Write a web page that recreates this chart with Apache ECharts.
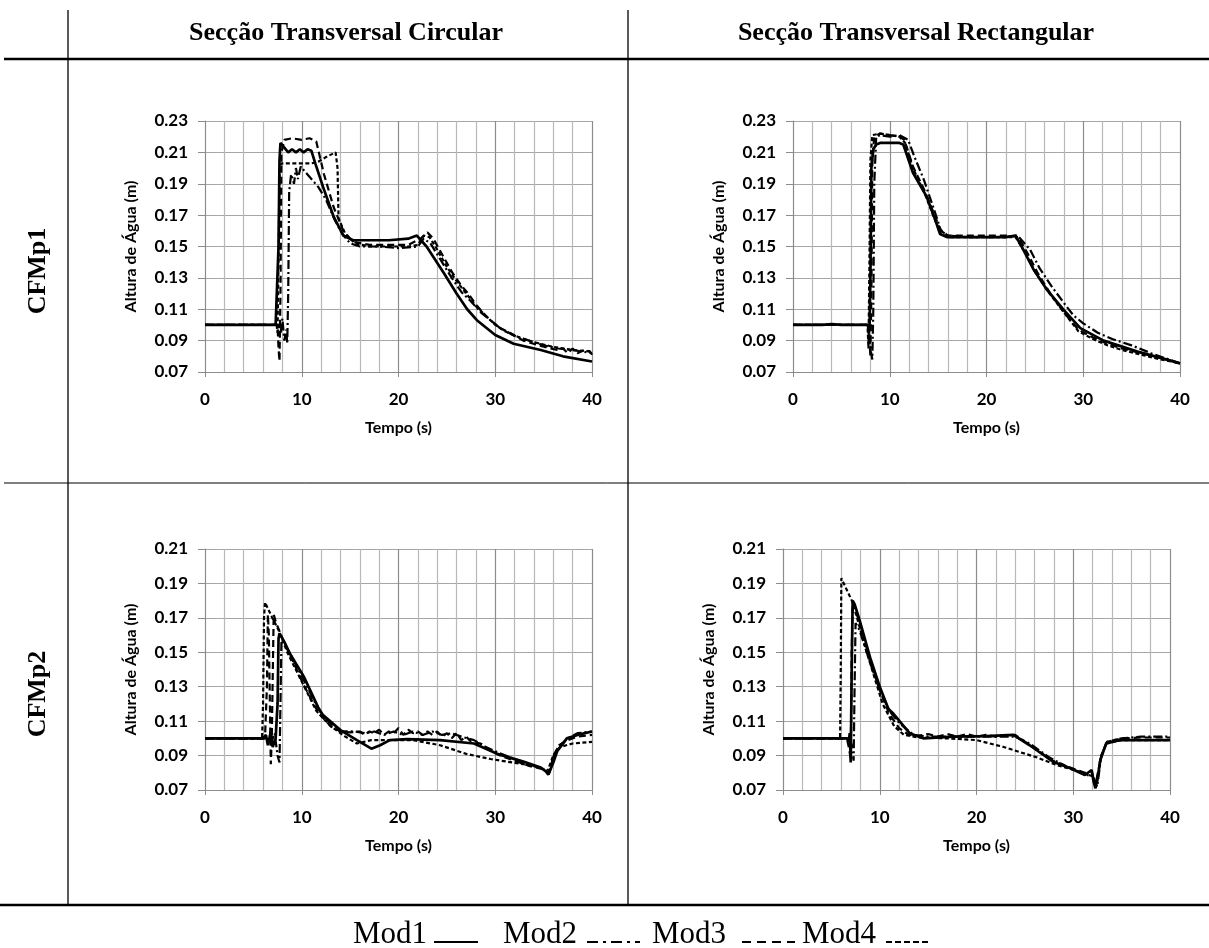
<!DOCTYPE html>
<html>
<head>
<meta charset="utf-8">
<script src="https://cdn.jsdelivr.net/npm/echarts@6/dist/echarts.min.js"></script>
<style>
html,body{margin:0;padding:0;background:#fff;}
#chart{width:1209px;height:948px;}
</style>
</head>
<body>
<div id="chart"></div>
<script>
// ---------- data ----------
const seriesNames = ['Mod1', 'Mod2', 'Mod3', 'Mod4'];
const columnTitles = ['Secção Transversal Circular', 'Secção Transversal Rectangular'];
const rowTitles = ['CFMp1', 'CFMp2'];
const xTicks = { min: 0, max: 40, step: 10 };
const yTicksTop = { min: 0.07, max: 0.23, step: 0.02 };
const yTicksBottom = { min: 0.07, max: 0.21, step: 0.02 };

// Circular, CFMp1
const circ1_mod1 = [[0,0.100],[7.3,0.100],[7.5,0.101],[7.6,0.150],[7.7,0.205],[7.8,0.216],[8.2,0.213],[8.6,0.210],[9.0,0.212],[9.4,0.210],[9.8,0.212],[10.2,0.210],[10.6,0.212],[11.0,0.211],[11.4,0.203],[12.2,0.188],[13.3,0.169],[14.3,0.157],[15.3,0.154],[17,0.154],[19,0.154],[21,0.155],[21.9,0.157],[22.9,0.150],[24.7,0.133],[26,0.120],[27.1,0.110],[28.1,0.103],[30,0.0936],[31.9,0.088],[34.7,0.084],[37,0.080],[40,0.0767]];
const circ1_mod2 = [[0,0.100],[7.6,0.100],[7.8,0.094],[8.0,0.104],[8.2,0.090],[8.4,0.097],[8.5,0.088],[8.6,0.120],[8.7,0.185],[8.9,0.196],[9.2,0.190],[9.4,0.200],[9.6,0.193],[9.9,0.201],[10.3,0.198],[11.0,0.193],[11.7,0.188],[12.5,0.180],[13.4,0.167],[14.2,0.158],[15.0,0.152],[16,0.150],[18,0.150],[20,0.149],[22,0.150],[22.6,0.155],[23.3,0.152],[24.5,0.140],[25.5,0.130],[26.5,0.121],[27.5,0.115],[28.5,0.108],[29.5,0.103],[30.5,0.098],[32,0.093],[33.5,0.090],[35,0.087],[36.5,0.085],[38,0.084],[40,0.082]];
const circ1_mod3 = [[0,0.100],[7.5,0.100],[7.6,0.085],[7.7,0.077],[7.8,0.120],[7.9,0.210],[8.2,0.218],[9,0.219],[10,0.218],[10.8,0.219],[11.5,0.217],[12.3,0.196],[13.3,0.175],[14.3,0.160],[15.3,0.153],[17,0.151],[19,0.151],[21,0.151],[22.3,0.155],[23.0,0.159],[23.6,0.155],[24.5,0.145],[25.5,0.134],[26.5,0.125],[27.2,0.120],[28,0.113],[29,0.106],[29.5,0.103],[30.5,0.098],[31.5,0.095],[32.9,0.090],[34.5,0.087],[36.4,0.084],[37,0.085],[37.5,0.082],[38,0.085],[38.5,0.082],[39.2,0.084],[39.8,0.083],[40,0.081]];
const circ1_mod4 = [[0,0.100],[7.4,0.100],[7.5,0.095],[7.6,0.140],[7.7,0.196],[7.9,0.203],[9,0.203],[10,0.203],[11,0.203],[11.7,0.204],[12.5,0.207],[13.5,0.210],[13.7,0.200],[13.8,0.168],[14.5,0.158],[15.5,0.152],[17,0.150],[19,0.150],[21,0.150],[22.0,0.151],[22.6,0.157],[23.2,0.156],[24,0.148],[25,0.137],[26,0.128],[27,0.120],[28,0.112],[29,0.106],[30,0.100],[31,0.096],[32.5,0.092],[34,0.089],[36,0.086],[38,0.084],[40,0.083]];

// Rectangular, CFMp1
const rect1_mod1 = [[0,0.100],[3,0.100],[4,0.1005],[5,0.100],[7.7,0.100],[7.9,0.096],[8.0,0.130],[8.1,0.200],[8.3,0.212],[8.6,0.215],[9,0.216],[10,0.216],[11,0.216],[11.4,0.215],[12.4,0.197],[13.8,0.182],[14.7,0.167],[15.2,0.158],[15.9,0.156],[18,0.156],[20,0.156],[22,0.156],[23,0.157],[23.8,0.148],[24.9,0.135],[26.3,0.122],[28,0.1094],[29.7,0.098],[32.1,0.090],[35.6,0.083],[38,0.079],[40,0.0755]];
const rect1_mod2 = [[0,0.100],[7.8,0.100],[8.0,0.085],[8.2,0.078],[8.3,0.110],[8.4,0.190],[8.6,0.220],[9,0.221],[10,0.220],[11,0.221],[11.9,0.218],[12.5,0.208],[13.5,0.193],[14.5,0.175],[15.3,0.160],[16,0.157],[18,0.156],[20,0.156],[22,0.156],[23.2,0.157],[24.5,0.148],[25.5,0.136],[26.8,0.124],[28,0.114],[29,0.106],[30,0.101],[31.5,0.095],[33,0.091],[35,0.087],[37,0.082],[40,0.0755]];
const rect1_mod3 = [[0,0.100],[7.8,0.100],[8.0,0.080],[8.1,0.120],[8.2,0.205],[8.4,0.220],[9,0.222],[10,0.221],[11,0.220],[11.5,0.218],[12.4,0.201],[13.5,0.187],[14.5,0.172],[15.2,0.161],[16,0.157],[18,0.157],[20,0.157],[22,0.157],[23.3,0.156],[24.3,0.145],[25.3,0.133],[26.5,0.121],[28,0.108],[29.5,0.097],[31,0.092],[32.5,0.088],[34,0.085],[36,0.082],[38,0.079],[40,0.0755]];
const rect1_mod4 = [[0,0.100],[7.7,0.100],[7.8,0.085],[7.9,0.140],[8.0,0.205],[8.2,0.221],[9,0.222],[10,0.221],[11,0.220],[11.6,0.216],[12.4,0.200],[13.6,0.184],[14.6,0.168],[15.3,0.158],[16,0.156],[18,0.156],[20,0.156],[22,0.156],[23,0.156],[24,0.146],[25,0.134],[26.4,0.121],[28,0.108],[29.5,0.096],[31,0.091],[32.5,0.087],[34,0.084],[36,0.081],[38,0.078],[40,0.0755]];

// Circular, CFMp2
const circ2_mod1 = [[0,0.100],[6.0,0.100],[6.3,0.102],[6.5,0.096],[6.8,0.104],[7.0,0.095],[7.3,0.100],[7.5,0.120],[7.6,0.158],[7.7,0.161],[8.2,0.156],[8.8,0.149],[10.2,0.136],[11.7,0.118],[12.2,0.1135],[14,0.1048],[15.7,0.099],[17.2,0.094],[18.1,0.096],[19.1,0.099],[20.9,0.0996],[24.3,0.099],[27.8,0.097],[30.2,0.091],[32.9,0.0865],[34.7,0.083],[35.2,0.081],[35.5,0.079],[36.0,0.086],[36.4,0.0925],[37.4,0.100],[38.5,0.102],[40,0.104]];
const circ2_mod2 = [[0,0.100],[6.5,0.100],[6.8,0.097],[7.2,0.103],[7.5,0.090],[7.7,0.086],[7.8,0.120],[7.9,0.157],[8.3,0.154],[9,0.147],[10.2,0.134],[11.7,0.117],[12.5,0.111],[14,0.104],[15.5,0.104],[16.5,0.103],[17.5,0.104],[18.5,0.102],[19.5,0.104],[20.5,0.102],[21.5,0.104],[22.5,0.102],[23.5,0.104],[24.5,0.102],[25.5,0.103],[26.5,0.101],[27.8,0.099],[29,0.095],[30.2,0.092],[32,0.088],[34,0.084],[35.0,0.082],[35.5,0.079],[35.9,0.088],[36.5,0.095],[37.5,0.100],[38.5,0.103],[40,0.104]];
const circ2_mod3 = [[0,0.100],[6.2,0.100],[6.4,0.130],[6.5,0.172],[6.6,0.160],[6.8,0.085],[6.9,0.100],[7.1,0.172],[7.3,0.168],[8,0.158],[9,0.146],[10.2,0.131],[11.7,0.115],[13,0.107],[14,0.104],[15,0.1035],[16,0.104],[16.5,0.102],[17,0.104],[17.5,0.103],[18,0.105],[18.5,0.102],[19,0.104],[19.5,0.103],[20,0.106],[20.5,0.102],[21,0.105],[21.5,0.103],[22,0.104],[22.5,0.102],[23,0.104],[23.5,0.102],[24,0.104],[24.5,0.101],[25,0.103],[25.5,0.100],[26,0.103],[26.5,0.099],[27,0.101],[27.5,0.098],[28.5,0.097],[29.5,0.093],[30.5,0.090],[32,0.087],[33.5,0.084],[35,0.082],[35.6,0.080],[36.0,0.090],[36.6,0.096],[37.5,0.099],[38.5,0.101],[40,0.102]];
const circ2_mod4 = [[0,0.100],[5.9,0.100],[6.0,0.120],[6.1,0.170],[6.2,0.179],[6.9,0.1707],[7.6,0.163],[8.5,0.150],[10,0.133],[11.5,0.116],[13,0.107],[14.5,0.101],[15.7,0.097],[17.2,0.099],[19,0.099],[21.5,0.099],[24.3,0.096],[27,0.091],[29.5,0.088],[32.9,0.085],[34.7,0.083],[35.4,0.081],[36.0,0.090],[36.7,0.095],[38,0.097],[40,0.098]];

// Rectangular, CFMp2
const rect2_mod1 = [[0,0.100],[6.6,0.100],[6.8,0.098],[6.9,0.103],[7.0,0.086],[7.1,0.140],[7.2,0.180],[7.4,0.178],[7.9,0.169],[9,0.147],[10,0.130],[10.9,0.117],[11.4,0.1144],[13.1,0.1029],[14.5,0.100],[17.6,0.101],[21,0.1013],[23.8,0.102],[25.5,0.096],[27.9,0.0864],[29.7,0.0826],[31.2,0.0787],[31.9,0.0816],[32.1,0.075],[32.3,0.071],[32.6,0.080],[32.8,0.0874],[33.4,0.097],[34.8,0.099],[40,0.099]];
const rect2_mod2 = [[0,0.100],[6.9,0.100],[7.1,0.096],[7.3,0.087],[7.4,0.130],[7.5,0.167],[7.9,0.163],[9,0.144],[10,0.128],[11,0.116],[12,0.109],[13.5,0.102],[15,0.101],[17,0.101],[19,0.101],[21,0.101],[23,0.101],[24,0.101],[25.5,0.097],[27.5,0.089],[29.5,0.083],[31.2,0.079],[32.0,0.078],[32.5,0.073],[32.9,0.090],[33.5,0.098],[35,0.100],[37,0.101],[40,0.101]];
const rect2_mod3 = [[0,0.100],[6.6,0.100],[6.8,0.095],[7.0,0.088],[7.1,0.150],[7.2,0.176],[7.5,0.174],[8,0.166],[9,0.145],[10,0.128],[11,0.114],[12,0.106],[13,0.102],[14,0.1015],[15,0.1025],[16,0.101],[17,0.1025],[18,0.101],[19,0.1025],[20,0.101],[21,0.102],[22,0.101],[23,0.1015],[24,0.102],[25.5,0.096],[27.9,0.087],[29.7,0.083],[31.2,0.080],[31.9,0.081],[32.3,0.073],[32.9,0.090],[33.5,0.098],[35,0.100],[37,0.1005],[40,0.1005]];
const rect2_mod4 = [[0,0.100],[5.9,0.100],[5.97,0.140],[6.03,0.193],[7.2,0.179],[8.6,0.151],[10.3,0.120],[11.5,0.107],[12.5,0.102],[14,0.1005],[17,0.100],[20,0.099],[22.8,0.095],[26.2,0.089],[28.3,0.0845],[30.7,0.0806],[31.5,0.079],[32.0,0.078],[32.4,0.072],[32.8,0.088],[33.4,0.097],[35,0.099],[40,0.099]];

const panels = [
  { data: [circ1_mod1, circ1_mod2, circ1_mod3, circ1_mod4], y: yTicksTop },
  { data: [rect1_mod1, rect1_mod2, rect1_mod3, rect1_mod4], y: yTicksTop },
  { data: [circ2_mod1, circ2_mod2, circ2_mod3, circ2_mod4], y: yTicksBottom },
  { data: [rect2_mod1, rect2_mod2, rect2_mod3, rect2_mod4], y: yTicksBottom }
];

// ---------- layout / style ----------
const gridBoxes = [
  { left: 205, top: 121, width: 387, height: 251 },
  { left: 793, top: 121, width: 387, height: 251 },
  { left: 205, top: 549, width: 387, height: 241 },
  { left: 783, top: 549, width: 387, height: 241 }
];
const lineStyles = [
  { type: 'solid', width: 2.7 },
  { type: [9, 3, 2, 3], width: 2.2 },
  { type: [7, 4], width: 2.2 },
  { type: [4, 2.5], width: 2.2 }
];
const legendDash = [null, [11, 5, 3, 5], [9, 6], [6, 3]];
const legendPos = [
  { text: 353, line: [434, 478] },
  { text: 503, line: [587, 640] },
  { text: 652, line: [742, 795] },
  { text: 802, line: [886, 930] }
];
const tickFont = { fontFamily: 'Lato', fontWeight: 'bold', fontSize: 17, color: '#000' };

const grids = [], xAxes = [], yAxes = [], series = [];
panels.forEach((p, i) => {
  grids.push(Object.assign({ containLabel: false }, gridBoxes[i]));
  xAxes.push({
    type: 'value', gridIndex: i, min: xTicks.min, max: xTicks.max, interval: xTicks.step,
    name: 'Tempo (s)', nameLocation: 'middle', nameGap: 48,
    nameTextStyle: { fontFamily: 'Lato', fontWeight: 'bold', fontSize: 16, color: '#000', verticalAlign: 'top' },
    axisLine: { show: true, lineStyle: { color: '#8c8c8c', width: 1 } },
    axisTick: { show: true, length: 5, lineStyle: { color: '#8c8c8c' } },
    minorTick: { show: false, splitNumber: 5 },
    axisLabel: Object.assign({ margin: 19 }, tickFont),
    splitLine: { show: true, lineStyle: { color: '#8c8c8c', width: 1.2 } },
    minorSplitLine: { show: true, lineStyle: { color: '#b8b8b8', width: 1.2 } }
  });
  yAxes.push({
    type: 'value', gridIndex: i, min: p.y.min, max: p.y.max, interval: p.y.step,
    name: 'Altura de Água (m)', nameLocation: 'middle', nameGap: 66, nameRotate: 90,
    nameTextStyle: { fontFamily: 'Lato', fontWeight: 'bold', fontSize: 16, color: '#000' },
    axisLine: { show: true, lineStyle: { color: '#8c8c8c', width: 1 } },
    axisTick: { show: true, length: 7, lineStyle: { color: '#8c8c8c' } },
    axisLabel: Object.assign({ margin: 17, formatter: v => v.toFixed(2) }, tickFont),
    splitLine: { show: true, lineStyle: { color: '#a6a6a6', width: 1.2 } }
  });
  p.data.forEach((d, k) => {
    series.push({
      name: seriesNames[k], type: 'line', xAxisIndex: i, yAxisIndex: i,
      data: d, showSymbol: false, symbol: 'none', smooth: false,
      lineStyle: Object.assign({ color: '#000' }, lineStyles[k]),
      itemStyle: { color: '#000' },
      z: k === 0 ? 5 : 3, animation: false
    });
  });
});

const lineEl = (x1, y1, x2, y2, w, dash) => ({
  type: 'line', silent: true,
  shape: { x1, y1, x2, y2 },
  style: { stroke: '#000', lineWidth: w, lineDash: dash || null }
});
const serifBold = 'bold 26px "Liberation Serif", "DejaVu Serif", serif';
const serifLegend = '31px "Liberation Serif", "DejaVu Serif", serif';

const graphic = [
  lineEl(4, 59, 1209, 59, 2.5),
  lineEl(0, 905, 1209, 905, 2.5),
  lineEl(4, 483, 1209, 483, 1),
  lineEl(68, 10, 68, 905, 1.3),
  lineEl(628, 10, 628, 905, 1.3),
  { type: 'text', x: 346, y: 33, silent: true,
    style: { text: columnTitles[0], font: serifBold, fill: '#000', align: 'center', verticalAlign: 'middle' } },
  { type: 'text', x: 916, y: 33, silent: true,
    style: { text: columnTitles[1], font: serifBold, fill: '#000', align: 'center', verticalAlign: 'middle' } },
  { type: 'text', x: 38, y: 271, rotation: Math.PI / 2, silent: true,
    style: { text: rowTitles[0], font: serifBold, fill: '#000', align: 'center', verticalAlign: 'middle' } },
  { type: 'text', x: 38, y: 694, rotation: Math.PI / 2, silent: true,
    style: { text: rowTitles[1], font: serifBold, fill: '#000', align: 'center', verticalAlign: 'middle' } }
];
seriesNames.forEach((n, k) => {
  graphic.push({ type: 'text', x: legendPos[k].text, y: 935, silent: true,
    style: { text: n, font: serifLegend, fill: '#000', align: 'left', verticalAlign: 'middle' } });
  graphic.push(lineEl(legendPos[k].line[0], 942, legendPos[k].line[1], 942, 2, legendDash[k]));
});

const chart = echarts.init(document.getElementById('chart'), null, { renderer: 'canvas' });
chart.setOption({
  animation: false,
  backgroundColor: '#fff',
  grid: grids,
  xAxis: xAxes,
  yAxis: yAxes,
  series: series,
  graphic: graphic
});
</script>
</body>
</html>
